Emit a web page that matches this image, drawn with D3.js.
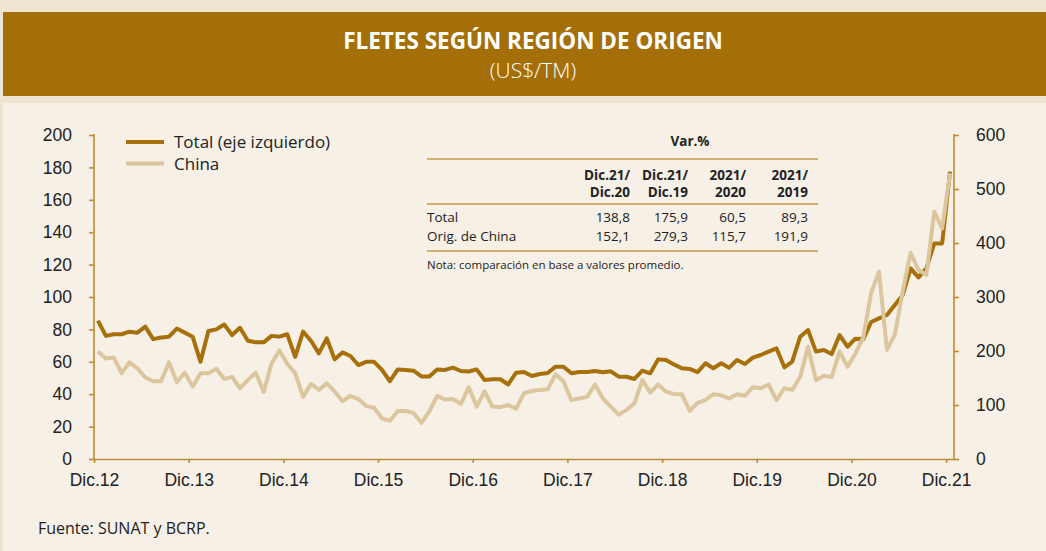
<!DOCTYPE html>
<html lang="es">
<head>
<meta charset="UTF-8">
<title>Fletes según región de origen</title>
<script src="https://cdn.jsdelivr.net/npm/d3@7"></script>
<style>
  body{ margin:0; background:#efe4d2; }
  svg{ display:block; font-family:"Open Sans", "DejaVu Sans", sans-serif; }
  .axis path, .axis line{ stroke:#bd8c35; stroke-width:1.6; }
  .axis text{ fill:#222; font-size:17.5px; }
</style>
</head>
<body>
<svg width="1046" height="551"></svg>
<script>
// Total (US$/TM, left axis), monthly Dic.12 - Dic.21
var total = [85.4,76,77,77,78.6,78,81.7,74,75,75.5,80.5,78,
  75.5,60,79,80,83,76.5,81,73,72,72,76,75.5,
  77,63,78.6,73,65.2,74.5,61.5,65.8,63.6,58,60,60,
  55,48,55.3,55,54.5,51,51,55.3,55,56.4,54.3,54,
  55.3,48.8,49.2,49.2,46,53.3,53.7,51.2,52.5,53.1,57,57,
  52.9,53.7,53.7,54.3,53.5,54.1,50.8,50.8,49.4,54.5,52.9,61.5,
  61.1,58.4,56,55.6,53.6,59.1,56,59.1,56.4,61.1,58.6,62.6,
  64.2,66.3,68.3,56.6,60.1,75.5,79.6,66.3,67.3,64.8,76.5,69.3,
  74.3,74,84.6,86.8,88.9,95,101.2,117.7,112.1,117.7,133.1,133.1,
  177.4];
// China (US$/TM, right axis)
var china = [199,186,188,159,179,168,151,144,144,179,142,160,
  134,159,159,167,148,152,131,146,160,124,177,201,
  176,159,115,139,128,140,125,107,117,111,98,95,
  75,71,89,89,85,67,88,117,110,111,102,133,
  97,125,97,96,100,93,122,126,128,129,157,144,
  109,112,115,138,112,97,82,91,103,146,123,138,
  125,120,120,89,104,109,120,118,112,120,117,133,
  131,138,109,131,128,152,208,146,154,152,199,171,
  195,225,308,347,202,230,310,382,350,341,458,427,
  529];

var xLabels = ["Dic.12","Dic.13","Dic.14","Dic.15","Dic.16","Dic.17","Dic.18","Dic.19","Dic.20","Dic.21"];
var leftTicks = [0,20,40,60,80,100,120,140,160,180,200];
var rightTicks = [0,100,200,300,400,500,600];

var tableCols = [["Dic.21/","Dic.20"],["Dic.21/","Dic.19"],["2021/","2020"],["2021/","2019"]];
var tableRows = [
  {name:"Total", vals:["138,8","175,9","60,5","89,3"]},
  {name:"Orig. de China", vals:["152,1","279,3","115,7","191,9"]}
];

var svg = d3.select("svg");
var W = 1046, H = 551;

// backgrounds
svg.append("rect").attr("width",W).attr("height",H).attr("fill","#efe4d2");
svg.append("rect").attr("x",3).attr("y",12).attr("width",W-3).attr("height",84).attr("fill","#a46e08");
svg.append("rect").attr("x",3).attr("y",103).attr("width",W-3).attr("height",H-103).attr("fill","#f6f0e7");

svg.append("text").attr("x",533).attr("y",49).attr("text-anchor","middle")
  .attr("fill","#fff").style("font-size","22.5px").style("font-weight",700)
  .text("FLETES SEGÚN REGIÓN DE ORIGEN");
svg.append("text").attr("x",533).attr("y",78).attr("text-anchor","middle")
  .attr("fill","#fff").style("font-size","21px").style("font-weight",300)
  .text("(US$/TM)");

var x0 = 94, x1 = 954, yTop = 135, yBot = 459;
var n = total.length;
var x = d3.scaleLinear().domain([0,n]).range([x0,x1]);
var yL = d3.scaleLinear().domain([0,200]).range([yBot,yTop]);
var yR = d3.scaleLinear().domain([0,600]).range([yBot,yTop]);

// axes
svg.append("g").attr("class","axis").attr("transform","translate("+x0+",0)")
  .call(d3.axisLeft(yL).tickValues(leftTicks).tickSize(5).tickSizeOuter(0).tickPadding(17))
  .call(g=>g.select(".domain").remove())
  .call(g=>g.append("line").attr("y1",yTop-1).attr("y2",yBot).attr("stroke","#bd8c35").attr("stroke-width",1.6));

svg.append("g").attr("class","axis").attr("transform","translate("+x1+",0)")
  .call(d3.axisRight(yR).tickValues(rightTicks).tickSize(5).tickSizeOuter(0).tickPadding(17))
  .call(g=>g.select(".domain").remove())
  .call(g=>g.append("line").attr("y1",yTop-1).attr("y2",yBot).attr("stroke","#bd8c35").attr("stroke-width",1.6))
  .call(g=>g.selectAll("text").attr("text-anchor","start"));

svg.append("g").attr("class","axis").attr("transform","translate(0,"+yBot+")")
  .call(d3.axisBottom(x).tickValues(d3.range(0,n,12)).tickSize(4).tickSizeOuter(0).tickPadding(11)
    .tickFormat((d,i)=>xLabels[i]))
  .call(g=>g.select(".domain").attr("stroke-width",2));

// lines
var lineT = d3.line().x((d,i)=>x(i+0.5)).y(d=>yL(d));
var lineC = d3.line().x((d,i)=>x(i+0.5)).y(d=>yR(d));

svg.append("path").datum(total).attr("d",lineT)
  .attr("fill","none").attr("stroke","#a8700b").attr("stroke-width",4).attr("stroke-linejoin","round");
svg.append("path").datum(china).attr("d",lineC)
  .attr("fill","none").attr("stroke","#dcc69d").attr("stroke-width",4).attr("stroke-linejoin","round");

// legend
var legend = [{name:"Total (eje izquierdo)", color:"#a8700b"},{name:"China", color:"#dcc69d"}];
legend.forEach(function(d,i){
  var ly = 142 + i*21.5;
  svg.append("line").attr("x1",126).attr("x2",164).attr("y1",ly).attr("y2",ly)
    .attr("stroke",d.color).attr("stroke-width",4);
  svg.append("text").attr("x",174).attr("y",ly+6).attr("fill","#222")
    .style("font-size","17px").text(d.name);
});

// table
var tb = svg.append("g").style("font-size","13.5px").attr("fill","#222");
var colX = [630,688,746,808];
tb.append("text").attr("x",690).attr("y",146).attr("text-anchor","middle")
  .style("font-weight",700).text("Var.%");
[159,204,251].forEach(function(yy){
  tb.append("line").attr("x1",427).attr("x2",818).attr("y1",yy).attr("y2",yy)
    .attr("stroke","#c49a4c").attr("stroke-width",1.3);
});
tableCols.forEach(function(c,i){
  c.forEach(function(t,j){
    tb.append("text").attr("x",colX[i]).attr("y",180+j*17).attr("text-anchor","end")
      .style("font-weight",700).text(t);
  });
});
tableRows.forEach(function(r,j){
  var ry = 222 + j*18.5;
  tb.append("text").attr("x",427).attr("y",ry).text(r.name);
  r.vals.forEach(function(v,i){
    tb.append("text").attr("x",colX[i]).attr("y",ry).attr("text-anchor","end").text(v);
  });
});
tb.append("text").attr("x",427).attr("y",269).style("font-size","11.5px")
  .text("Nota: comparación en base a valores promedio.");

// source
svg.append("text").attr("x",38).attr("y",534).attr("fill","#222").style("font-size","16px")
  .text("Fuente: SUNAT y BCRP.");
</script>
</body>
</html>
